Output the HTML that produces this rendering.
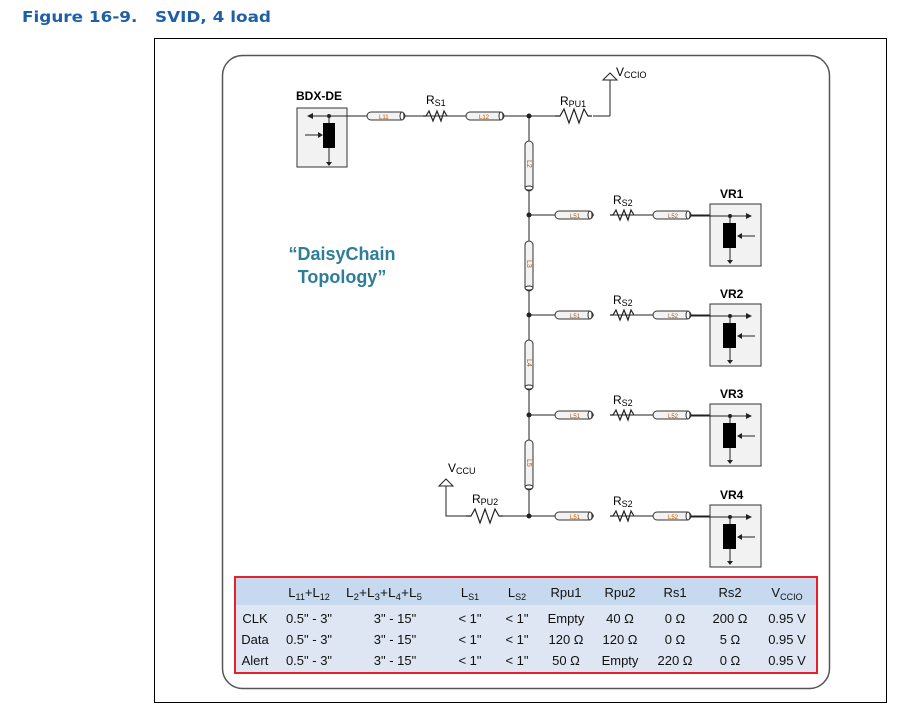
<!DOCTYPE html>
<html><head><meta charset="utf-8"><style>
body{margin:0;background:#fff;width:905px;height:712px;overflow:hidden}
svg{display:block}
text{font-family:"Liberation Sans",sans-serif}
</style></head><body>
<svg width="905" height="712" viewBox="0 0 905 712">
<defs>
<g id="tube"><rect x="0" y="-4" width="38" height="8" rx="4" fill="#f2f2f2" stroke="#333" stroke-width="1"/><ellipse cx="35" cy="0" rx="2" ry="4" fill="#fff" stroke="#333"/></g>
<g id="vtube"><rect x="-4" y="0" width="8" height="50" rx="4" fill="#f2f2f2" stroke="#333" stroke-width="1"/><ellipse cx="0" cy="47" rx="4" ry="2" fill="#fff" stroke="#333"/></g>
<path id="res" d="M0 0 L3 0 L6 -5 L10 5 L14 -5 L18 5 L21 -5 L24 0" fill="none" stroke="#222" stroke-width="1.2"/>
<path id="resb" d="M0 0 L5 0 L9 -7 L14 7 L19 -7 L24 7 L29 -7 L33 0 L37 0" fill="none" stroke="#222" stroke-width="1.2"/>
<g id="vr">
<rect x="0" y="0" width="51" height="62" fill="#f2f2f2" stroke="#333"/>
<line x1="-20" y1="12" x2="40" y2="12" stroke="#222"/><path d="M42 12 l-6 -3 v6z" fill="#222"/>
<circle cx="20" cy="12" r="2" fill="#222"/>
<line x1="20" y1="12" x2="20" y2="56" stroke="#222"/>
<rect x="13" y="19" width="13" height="25" fill="#000"/>
<path d="M20 60 l-3 -4 h6z" fill="#222"/>
<line x1="45" y1="32" x2="30" y2="32" stroke="#222"/><path d="M27 32 l5 -3 v6z" fill="#222"/>
</g>
<g id="branch">
<line x1="529" y1="0" x2="710" y2="0" stroke="#222"/>
<circle cx="529" cy="0" r="2.5" fill="#222"/>
<use href="#tube" x="555" y="0"/>
<text x="570" y="3" font-size="6" fill="#b35900">L51</text>
<rect x="594" y="-3" width="16" height="6" fill="#fff"/>
<use href="#res" x="610" y="0"/>
<text x="613" y="-11" font-size="12">R<tspan font-size="9" dy="2">S2</tspan></text>
<rect x="634" y="-3" width="18" height="6" fill="#fff"/>
<line x1="634" y1="0" x2="653" y2="0" stroke="#222"/>
<use href="#tube" x="653" y="0"/>
<text x="668" y="3" font-size="6" fill="#b35900">L52</text>
</g>
</defs>

<text x="22" y="22" font-size="15" font-weight="bold" fill="#1f5fa8" style="font-family:'DejaVu Sans',sans-serif" xml:space="preserve" textLength="249" lengthAdjust="spacingAndGlyphs">Figure 16-9.   SVID, 4 load</text>
<rect x="154.5" y="38.5" width="732" height="664" fill="#fff" stroke="#000"/>
<rect x="222.5" y="55.5" width="607" height="633" rx="20" fill="#fff" stroke="#555" stroke-width="1.5"/>

<!-- top -->
<rect x="297" y="108" width="50" height="59" fill="#f2f2f2" stroke="#333"/>
<text x="296" y="100" font-size="12" font-weight="bold">BDX-DE</text>
<line x1="312" y1="116" x2="610" y2="116" stroke="#222"/>
<path d="M307 116 l6 -3 v6z" fill="#222"/>
<circle cx="329" cy="116" r="2" fill="#222"/>
<line x1="329" y1="116" x2="329" y2="162" stroke="#222"/>
<rect x="323" y="123" width="12" height="25" fill="#000"/>
<path d="M329 166 l-3 -4 h6z" fill="#222"/>
<line x1="305" y1="135" x2="320" y2="135" stroke="#222"/><path d="M323 135 l-5 -3 v6z" fill="#222"/>
<use href="#tube" x="367" y="116"/><text x="379" y="119" font-size="6" fill="#b35900">L11</text>
<rect x="408" y="113" width="54" height="6" fill="#fff"/><line x1="405" y1="116" x2="466" y2="116" stroke="#222"/>
<use href="#res" x="423" y="116"/>
<text x="426" y="104" font-size="12">R<tspan font-size="9" dy="2">S1</tspan></text>
<use href="#tube" x="466" y="116"/><text x="479" y="119" font-size="6" fill="#b35900">L12</text>
<circle cx="529" cy="116" r="2.5" fill="#222"/>
<rect x="555" y="110" width="38" height="12" fill="#fff"/>
<use href="#resb" x="555" y="116"/>
<text x="560" y="105" font-size="12">R<tspan font-size="9" dy="2">PU1</tspan></text>
<path d="M610 116 V80" stroke="#222" fill="none"/>
<path d="M603 80 L610 73 L617 80 Z" fill="#fff" stroke="#222"/>
<text x="616" y="76" font-size="12">V<tspan font-size="9" dy="2">CCIO</tspan></text>

<!-- vertical -->
<line x1="529" y1="116" x2="529" y2="516" stroke="#222"/>
<use href="#vtube" x="529" y="141"/><text x="527" y="160" font-size="7" fill="#b35900" transform="rotate(90 527 160)">L2</text>
<use href="#vtube" x="529" y="241"/><text x="527" y="260" font-size="7" fill="#b35900" transform="rotate(90 527 260)">L3</text>
<use href="#vtube" x="529" y="340"/><text x="527" y="359" font-size="7" fill="#b35900" transform="rotate(90 527 359)">L4</text>
<use href="#vtube" x="529" y="440"/><text x="527" y="459" font-size="7" fill="#b35900" transform="rotate(90 527 459)">L5</text>

<use href="#branch" y="215"/>
<use href="#branch" y="315"/>
<use href="#branch" y="415"/>
<use href="#branch" y="516"/>
<use href="#vr" x="710" y="204"/><text x="720" y="198" font-size="12" font-weight="bold">VR1</text>
<use href="#vr" x="710" y="304"/><text x="720" y="298" font-size="12" font-weight="bold">VR2</text>
<use href="#vr" x="710" y="404"/><text x="720" y="398" font-size="12" font-weight="bold">VR3</text>
<use href="#vr" x="710" y="505"/><text x="720" y="499" font-size="12" font-weight="bold">VR4</text>

<!-- RPU2 -->
<rect x="466" y="510" width="38" height="12" fill="#fff"/>
<path d="M446 486 V516 H466 M503 516 H529" stroke="#222" fill="none"/>
<use href="#resb" x="466" y="516"/>
<path d="M439 486 L446 479 L453 486 Z" fill="#fff" stroke="#222"/>
<text x="448" y="472" font-size="12">V<tspan font-size="9" dy="2">CCU</tspan></text>
<text x="472" y="503" font-size="12">R<tspan font-size="9" dy="2">PU2</tspan></text>

<text x="342" y="260" font-size="18" font-weight="bold" fill="#2e7d9a" text-anchor="middle">“DaisyChain</text>
<text x="342" y="283" font-size="18" font-weight="bold" fill="#2e7d9a" text-anchor="middle">Topology”</text>

<!-- table -->
<rect x="236" y="578" width="580" height="27" fill="#c6d9ef"/>
<rect x="236" y="605" width="580" height="67" fill="#dde6f2"/>
<rect x="235" y="577" width="582" height="96" fill="none" stroke="#e8202a" stroke-width="2"/>
<g font-size="13" text-anchor="middle" fill="#111">
<text x="309" y="597">L<tspan font-size="9" dy="3">11</tspan><tspan dy="-3">+L</tspan><tspan font-size="9" dy="3">12</tspan></text>
<text x="384" y="597" textLength="76" lengthAdjust="spacingAndGlyphs">L<tspan font-size="9" dy="3">2</tspan><tspan dy="-3">+L</tspan><tspan font-size="9" dy="3">3</tspan><tspan dy="-3">+L</tspan><tspan font-size="9" dy="3">4</tspan><tspan dy="-3">+L</tspan><tspan font-size="9" dy="3">5</tspan></text>
<text x="470" y="597">L<tspan font-size="9" dy="3">S1</tspan></text>
<text x="517" y="597">L<tspan font-size="9" dy="3">S2</tspan></text>
<text x="566" y="597">Rpu1</text><text x="620" y="597">Rpu2</text><text x="675" y="597">Rs1</text><text x="730" y="597">Rs2</text>
<text x="787" y="597">V<tspan font-size="9" dy="3">CCIO</tspan></text>
<text x="255" y="623">CLK</text><text x="309" y="623">0.5" - 3"</text><text x="395" y="623">3" - 15"</text><text x="470" y="623">&lt; 1"</text><text x="517" y="623">&lt; 1"</text><text x="566" y="623">Empty</text><text x="620" y="623">40 Ω</text><text x="675" y="623">0 Ω</text><text x="730" y="623">200 Ω</text><text x="787" y="623">0.95 V</text>
<text x="255" y="644">Data</text><text x="309" y="644">0.5" - 3"</text><text x="395" y="644">3" - 15"</text><text x="470" y="644">&lt; 1"</text><text x="517" y="644">&lt; 1"</text><text x="566" y="644">120 Ω</text><text x="620" y="644">120 Ω</text><text x="675" y="644">0 Ω</text><text x="730" y="644">5 Ω</text><text x="787" y="644">0.95 V</text>
<text x="255" y="665">Alert</text><text x="309" y="665">0.5" - 3"</text><text x="395" y="665">3" - 15"</text><text x="470" y="665">&lt; 1"</text><text x="517" y="665">&lt; 1"</text><text x="566" y="665">50 Ω</text><text x="620" y="665">Empty</text><text x="675" y="665">220 Ω</text><text x="730" y="665">0 Ω</text><text x="787" y="665">0.95 V</text>
</g>
</svg>
</body></html>
